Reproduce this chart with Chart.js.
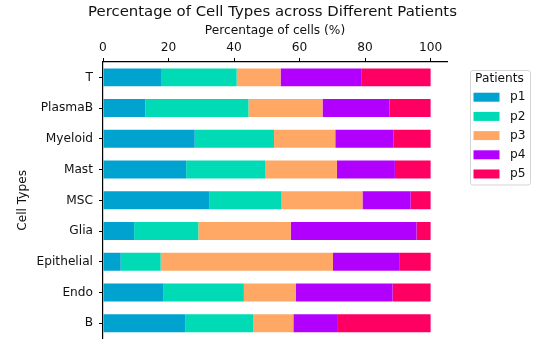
<!DOCTYPE html>
<html>
<head>
<meta charset="utf-8">
<script src="https://cdn.jsdelivr.net/npm/chart.js@4"></script>
<style>
  html, body { margin: 0; padding: 0; background: #fff; }
  #wrap { width: 543px; height: 352px; }
</style>
</head>
<body>
<div id="wrap"><canvas id="c" width="543" height="352"></canvas></div>
<script>
const categories = ['T', 'PlasmaB', 'Myeloid', 'Mast', 'MSC', 'Glia', 'Epithelial', 'Endo', 'B'];
const seriesNames = ['p1', 'p2', 'p3', 'p4', 'p5'];
const p1 = [17.7, 12.9, 28.0, 25.4, 32.4, 9.5, 5.4, 18.5, 25.2];
const p2 = [23.1, 31.5, 24.2, 24.2, 22.1, 19.6, 12.2, 24.5, 20.6];
const p3 = [13.4, 22.6, 18.7, 21.8, 24.7, 28.2, 52.6, 15.8, 12.3];
const p4 = [24.6, 20.5, 17.7, 17.7, 14.7, 38.4, 20.4, 29.6, 13.6];
const p5 = [21.2, 12.5, 11.4, 10.9, 6.1, 4.3, 9.4, 11.6, 28.3];
const xTicks = [0, 20, 40, 60, 80, 100];
const colors = ['#00a2d0', '#00dab5', '#ffa866', '#b200ff', '#ff0062'];
const chartTitle = 'Percentage of Cell Types across Different Patients';

const seriesValues = [p1, p2, p3, p4, p5];
const FONT = 'DejaVu Sans';

const titlePlugin = {
  id: 'centeredTitle',
  afterDraw(chart) {
    const ctx = chart.ctx;
    const a = chart.chartArea;
    ctx.save();
    ctx.fillStyle = '#111';
    ctx.font = '14.9px "' + FONT + '"';
    ctx.textAlign = 'center';
    ctx.textBaseline = 'middle';
    ctx.fillText(chartTitle, (a.left + a.right) / 2 - 2.5, 12);
    ctx.restore();
  }
};

const legendPlugin = {
  id: 'boxLegend',
  afterDraw(chart) {
    const ctx = chart.ctx;
    ctx.save();
    const x0 = 470.5, y0 = 70.5, w = 60, h = 114.5, r = 2.5;
    ctx.beginPath();
    ctx.moveTo(x0 + r, y0);
    ctx.lineTo(x0 + w - r, y0);
    ctx.arcTo(x0 + w, y0, x0 + w, y0 + r, r);
    ctx.lineTo(x0 + w, y0 + h - r);
    ctx.arcTo(x0 + w, y0 + h, x0 + w - r, y0 + h, r);
    ctx.lineTo(x0 + r, y0 + h);
    ctx.arcTo(x0, y0 + h, x0, y0 + h - r, r);
    ctx.lineTo(x0, y0 + r);
    ctx.arcTo(x0, y0, x0 + r, y0, r);
    ctx.closePath();
    ctx.fillStyle = 'rgba(255,255,255,0.8)';
    ctx.fill();
    ctx.strokeStyle = '#d5d5d5';
    ctx.lineWidth = 1;
    ctx.stroke();
    ctx.fillStyle = '#111';
    ctx.font = '12.2px "' + FONT + '"';
    ctx.textAlign = 'center';
    ctx.textBaseline = 'middle';
    ctx.fillText('Patients', 499.5, 78.5);
    ctx.textAlign = 'left';
    chart.data.datasets.forEach((ds, i) => {
      const cy = 97.2 + 19.2 * i;
      ctx.fillStyle = ds.backgroundColor;
      ctx.fillRect(473.5, cy - 4.5, 26, 9);
      ctx.fillStyle = '#111';
      ctx.fillText(ds.label, 510, cy);
    });
    ctx.restore();
  }
};

new Chart(document.getElementById('c'), {
  type: 'bar',
  data: {
    labels: categories,
    datasets: seriesNames.map((name, i) => ({
      label: name,
      data: seriesValues[i],
      backgroundColor: colors[i],
      borderWidth: 0,
      barPercentage: 0.585,
      categoryPercentage: 1.0
    }))
  },
  options: {
    indexAxis: 'y',
    responsive: false,
    animation: false,
    layout: { padding: { left: 0, right: 96, top: 20.5, bottom: 13 } },
    plugins: {
      legend: { display: false },
      tooltip: { enabled: false },
      title: { display: false }
    },
    scales: {
      x: {
        position: 'top',
        stacked: true,
        min: 0,
        max: 105,
        afterBuildTicks: (s) => { s.ticks = xTicks.map(v => ({ value: v })); },
        afterFit: (s) => { s.height = 41.5; },
        ticks: {
          color: '#111',
          font: { family: FONT, size: 12.2 },
          padding: 3,
          maxRotation: 0
        },
        grid: {
          display: true,
          drawOnChartArea: false,
          drawTicks: true,
          tickLength: 4,
          color: '#000',
          lineWidth: 1
        },
        border: { display: true, color: '#000', width: 1.2 },
        title: {
          display: true,
          text: 'Percentage of cells (%)',
          color: '#111',
          font: { family: FONT, size: 12.2 },
          padding: { top: 2.7, bottom: 0 }
        }
      },
      y: {
        stacked: true,
        offset: true,
        afterFit: (s) => { s.width = 103; },
        ticks: {
          color: '#111',
          font: { family: FONT, size: 12.2 },
          padding: 6
        },
        grid: {
          display: true,
          offset: false,
          drawOnChartArea: false,
          drawTicks: true,
          tickLength: 4,
          color: '#000',
          lineWidth: 1
        },
        border: { display: true, color: '#000', width: 1.2 },
        title: {
          display: true,
          text: 'Cell Types',
          color: '#111',
          font: { family: FONT, size: 12.2 },
          padding: { top: 15.4, bottom: 0 }
        }
      }
    }
  },
  plugins: [titlePlugin, legendPlugin]
});
</script>
</body>
</html>
